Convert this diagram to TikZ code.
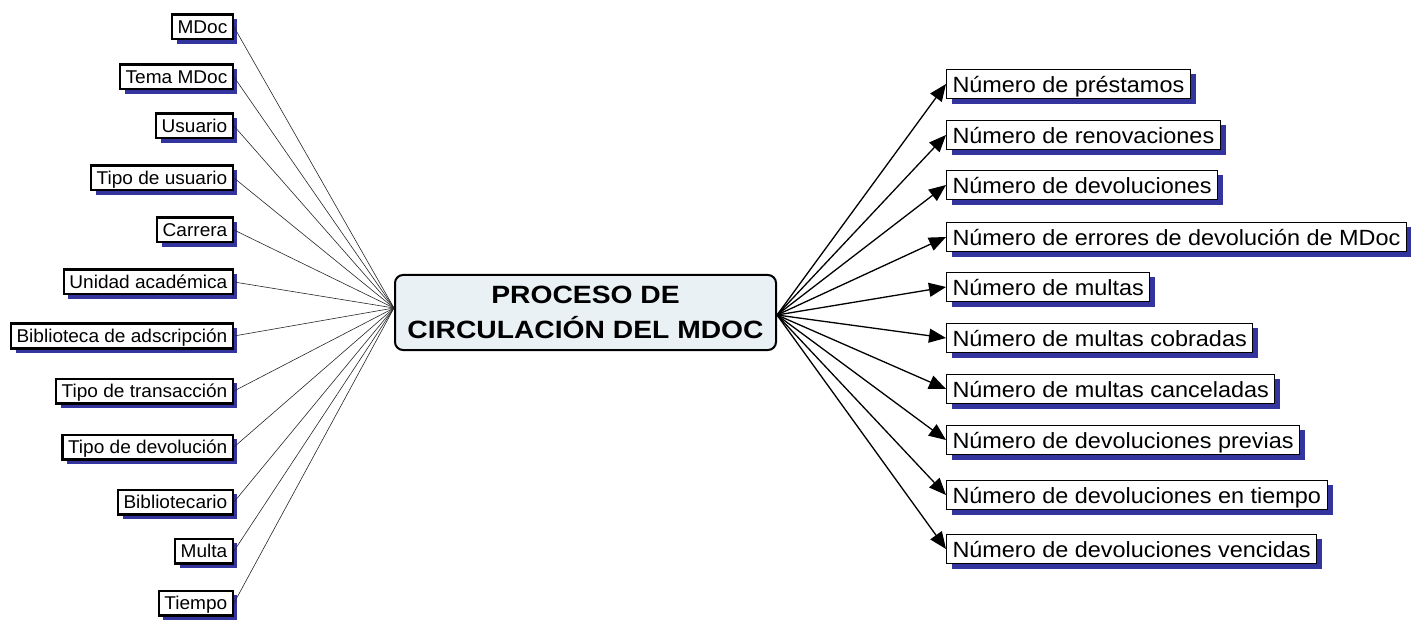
\documentclass[tikz,border=0pt]{standalone}
\usepackage{fontspec}
\setmainfont{Liberation Sans}
\newfontfamily\leftfont[FakeStretch=1.03]{Liberation Sans}
\newfontfamily\rightfont[FakeStretch=1.065]{Liberation Sans}
\newfontfamily\hubfont[FakeStretch=1.13]{Liberation Sans}
\usetikzlibrary{shadows,arrows.meta}
\definecolor{shadowblue}{RGB}{52,52,158}
\definecolor{hubfill}{RGB}{233,241,244}
\tikzset{
  srcbox/.style={draw=black, line width=2.4pt, fill=white, anchor=east,
    font=\leftfont\fontsize{18.5}{21}\selectfont,
    text height=16.2pt, text depth=3pt, inner xsep=5.5pt, inner ysep=2.7pt,
    drop shadow={shadow xshift=4.5pt, shadow yshift=-4.5pt, fill=shadowblue, opacity=1}},
  measbox/.style={draw=black, line width=1pt, fill=white, anchor=west,
    font=\rightfont\fontsize{22}{24}\selectfont,
    text height=20.5pt, text depth=2.8pt, inner xsep=6pt, inner ysep=3pt,
    drop shadow={shadow xshift=5.5pt, shadow yshift=-5pt, fill=shadowblue, opacity=1}},
  hub/.style={draw=black, line width=2pt, fill=hubfill, rounded corners=8pt,
    minimum width=381pt, minimum height=75pt, align=center,
    font=\hubfont\bfseries\fontsize{25}{35}\selectfont},
  spoke/.style={draw=black!85, line width=0.6pt},
  feed/.style={draw=black, line width=1.3pt, -{Triangle[length=17pt,width=14pt]}},
}
\begin{document}
\begin{tikzpicture}[x=1pt,y=-1pt]
\useasboundingbox (0,0) rectangle (1411,620);

% central process
\node[hub] (hub) at (585.5,312.5) {\raisebox{-2pt}{PROCESO DE}\\\raisebox{-2pt}{CIRCULACIÓN DEL MDOC}};

% dimensions (left)
\node[srcbox] (d1)  at (234,27)  {MDoc};
\node[srcbox] (d2)  at (234,77)  {Tema MDoc};
\node[srcbox] (d3)  at (234,126) {Usuario};
\node[srcbox] (d4)  at (234,178) {Tipo de usuario};
\node[srcbox] (d5)  at (234,230) {Carrera};
\node[srcbox] (d6)  at (234,282) {Unidad académica};
\node[srcbox] (d7)  at (234,336) {Biblioteca de adscripción};
\node[srcbox] (d8)  at (234,391) {Tipo de transacción};
\node[srcbox] (d9)  at (234,447) {Tipo de devolución};
\node[srcbox] (d10) at (234,502) {Bibliotecario};
\node[srcbox] (d11) at (234,551) {Multa};
\node[srcbox] (d12) at (234,603) {Tiempo};

% measures (right)
\node[measbox] (m1)  at (946,84)  {Número de préstamos};
\node[measbox] (m2)  at (946,135) {Número de renovaciones};
\node[measbox] (m3)  at (946,185) {Número de devoluciones};
\node[measbox] (m4)  at (946,237) {Número de errores de devolución de MDoc};
\node[measbox] (m5)  at (946,287) {Número de multas};
\node[measbox] (m6)  at (946,338) {Número de multas cobradas};
\node[measbox] (m7)  at (946,389) {Número de multas canceladas};
\node[measbox] (m8)  at (946,440) {Número de devoluciones previas};
\node[measbox] (m9)  at (946,495) {Número de devoluciones en tiempo};
\node[measbox] (m10) at (946,549) {Número de devoluciones vencidas};

% connectors
\coordinate (hubin)  at ([yshift=4.5pt]hub.west);
\coordinate (hubout) at ([yshift=-2.5pt]hub.east);
\foreach \i in {1,...,12} {
  \draw[spoke] (d\i.east) -- (hubin);
}
\foreach \i in {1,...,10} {
  \draw[feed] (hubout) -- (m\i.west);
}
\end{tikzpicture}
\end{document}
